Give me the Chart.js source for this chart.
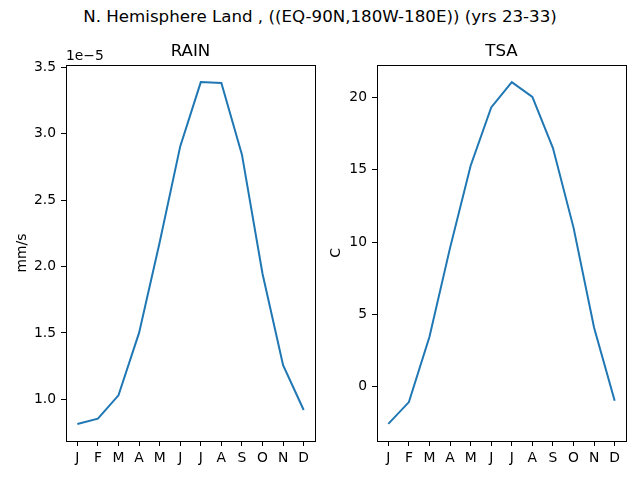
<!DOCTYPE html>
<html>
<head>
<meta charset="utf-8">
<script src="https://cdn.jsdelivr.net/npm/chart.js@4/dist/chart.umd.min.js"></script>
<style>
  html, body { margin: 0; padding: 0; background: #fff; }
  #wrap { position: relative; width: 640px; height: 480px; }
  #suptitle {
    position: absolute; left: 0; top: 7px; width: 640px; text-align: center;
    font: 16.67px "DejaVu Sans", sans-serif; line-height: 20px; color: #000;
  }
  canvas { position: absolute; top: 0; }
</style>
</head>
<body>
<div id="wrap">
  <div id="suptitle">N. Hemisphere Land , ((EQ-90N,180W-180E)) (yrs 23-33)</div>
  <div style="position:absolute;left:0;top:0;width:320px;height:480px"><canvas id="rain"></canvas></div>
  <div style="position:absolute;left:320px;top:0;width:320px;height:480px"><canvas id="tsa"></canvas></div>
</div>
<script>
const months = ['J', 'F', 'M', 'A', 'M', 'J', 'J', 'A', 'S', 'O', 'N', 'D'];

// monthly means, mm/s
const rain = [0.815e-5, 0.855e-5, 1.03e-5, 1.50e-5, 2.18e-5, 2.904e-5,
              3.388e-5, 3.382e-5, 2.842e-5, 1.945e-5, 1.257e-5, 0.92e-5];
const rainTicks = [1.0e-5, 1.5e-5, 2.0e-5, 2.5e-5, 3.0e-5, 3.5e-5];

// monthly means, C
const tsa = [-2.57, -1.06, 3.45, 9.6, 15.28, 19.31, 21.06, 20.03, 16.5, 11.0, 4.08, -0.97];
const tsaTicks = [0, 5, 10, 15, 20];

const FONT = '"DejaVu Sans", sans-serif';
const BLUE = '#1f77b4';

// matplotlib style 5% margins
function pad(vals) {
  const lo = Math.min(...vals), hi = Math.max(...vals);
  const m = (hi - lo) * 0.05;
  return [lo - m, hi + m];
}

const frame = {
  id: 'frame',
  afterDraw(chart, args, opts) {
    const a = chart.chartArea, ctx = chart.ctx;
    ctx.save();
    ctx.strokeStyle = '#000';
    ctx.lineWidth = 1;
    ctx.strokeRect(Math.round(a.left) + 0.5, Math.round(a.top) + 0.5,
                   Math.round(a.right - a.left), Math.round(a.bottom - a.top));
    if (opts.offset) {
      ctx.fillStyle = '#000';
      ctx.font = '13.89px ' + FONT;
      ctx.textAlign = 'left';
      ctx.textBaseline = 'middle';
      ctx.fillText(opts.offset, a.left, 56);
    }
    ctx.restore();
  }
};

function makeChart(id, title, yTitle, values, ticks, opt) {
  const [ymin, ymax] = pad(values);
  return new Chart(document.getElementById(id), {
    type: 'line',
    data: {
      datasets: [{
        data: values.map((v, i) => ({ x: i, y: v })),
        borderColor: BLUE,
        borderWidth: 2,
        pointRadius: 0,
        tension: 0,
        fill: false
      }]
    },
    plugins: [frame],
    options: {
      animation: false,
      responsive: true,
      maintainAspectRatio: false,
      layout: { padding: { left: 0, right: opt.right, top: 0, bottom: 0 } },
      plugins: {
        legend: { display: false },
        tooltip: { enabled: false },
        title: {
          display: true,
          text: title,
          fullSize: false,
          color: '#000',
          font: { family: FONT, size: 16.67, weight: 'normal', lineHeight: 1.2 },
          padding: { top: 42, bottom: 3 }
        },
        frame: { offset: opt.offset }
      },
      scales: {
        x: {
          type: 'linear',
          min: -0.55,
          max: 11.55,
          afterBuildTicks: s => { s.ticks = months.map((m, i) => ({ value: i })); },
          afterFit: s => { s.height = 39; },
          grid: { drawOnChartArea: false, drawTicks: true, tickLength: 5, color: '#000' },
          border: { display: false },
          ticks: {
            color: '#000',
            padding: 4,
            maxRotation: 0,
            autoSkip: false,
            font: { family: FONT, size: 13.89 },
            callback: v => months[v]
          }
        },
        y: {
          min: ymin,
          max: ymax,
          afterBuildTicks: s => { s.ticks = ticks.map(v => ({ value: v })); },
          afterFit: s => { s.width = opt.axisWidth; },
          grid: { drawOnChartArea: false, drawTicks: true, tickLength: 5, color: '#000' },
          border: { display: false },
          title: {
            display: true,
            text: yTitle,
            color: '#000',
            font: { family: FONT, size: 13.89, lineHeight: 1.2 },
            padding: { top: opt.titlePad, bottom: 0 }
          },
          ticks: {
            color: '#000',
            padding: 5,
            autoSkip: false,
            font: { family: FONT, size: 13.89 },
            callback: opt.tickFormat
          }
        }
      }
    }
  });
}

makeChart('rain', 'RAIN', 'mm/s', rain, rainTicks, {
  right: 5, axisWidth: 66, titlePad: 13.7, offset: '1e\u22125',
  tickFormat: v => (v / 1e-5).toFixed(1)
});
makeChart('tsa', 'TSA', 'C', tsa, tsaTicks, {
  right: 14, axisWidth: 57, titlePad: 7.7, offset: null,
  tickFormat: v => String(v)
});
</script>
</body>
</html>
